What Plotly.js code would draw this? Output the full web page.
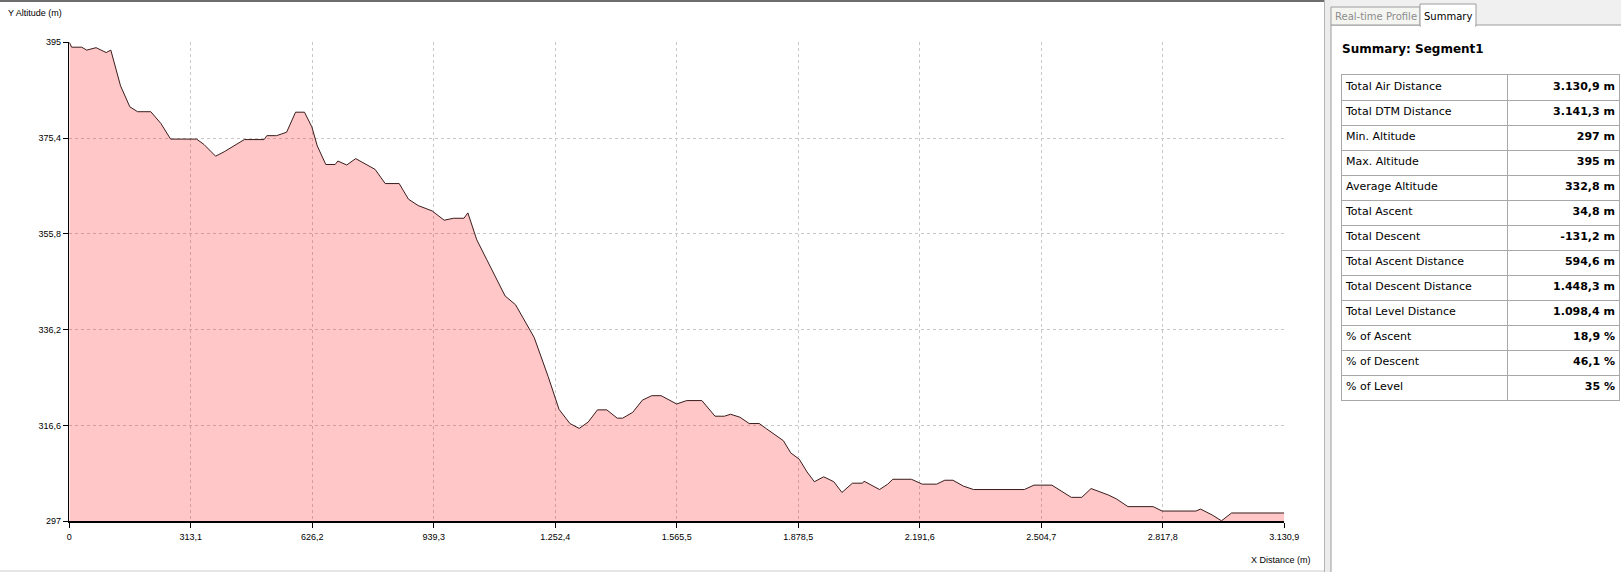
<!DOCTYPE html>
<html>
<head>
<meta charset="utf-8">
<script src="https://cdn.plot.ly/plotly-3.0.1.min.js"></script>
<style>
  html, body { margin: 0; padding: 0; background: #ffffff; }
  #chart { width: 1621px; height: 572px; }
</style>
</head>
<body>
<div id="chart"></div>
<script>
// ---------- data ----------
const distance = [0, 6, 32, 45, 69, 95, 107, 132, 156, 176, 210, 236, 261, 328, 347, 377, 399, 451, 502, 509,
  534, 560, 583, 606, 625, 639, 661, 685, 692, 715, 738, 788, 814, 850, 874, 899, 935, 966, 990, 1017,
  1027, 1050, 1076, 1123, 1150, 1198, 1234, 1262, 1290, 1314, 1337, 1361, 1385, 1412, 1426, 1452, 1477, 1501, 1525, 1565,
  1591, 1630, 1664, 1688, 1704, 1728, 1752, 1778, 1797, 1840, 1859, 1881, 1901, 1920, 1944, 1970, 1991, 2018, 2044, 2048,
  2088, 2109, 2122, 2170, 2198, 2235, 2256, 2277, 2304, 2330, 2461, 2486, 2532, 2582, 2609, 2633, 2677, 2698, 2728, 2793,
  2816, 2903, 2915, 2945, 2969, 2995, 3130.9];
const altitude = [395, 394, 394, 393.4, 393.9, 392.9, 393.4, 386.1, 381.8, 380.8, 380.8, 378.4, 375.2, 375.2, 374.1, 371.7, 372.6, 375.1, 375.1, 375.9,
  375.9, 376.6, 380.7, 380.7, 377.7, 373.8, 370.0, 370.0, 370.7, 369.9, 371.2, 369.0, 366.1, 366.1, 362.9, 361.6, 360.5, 358.6, 359.0, 359.0,
  360.1, 354.6, 350.5, 343.1, 341.3, 334.6, 326.6, 319.9, 317.0, 316.0, 317.3, 319.8, 319.8, 318.1, 318.1, 319.3, 321.8, 322.7, 322.7, 321.0,
  321.7, 321.7, 318.5, 318.5, 318.9, 318.3, 317.0, 317.0, 315.9, 313.5, 311.0, 309.7, 307.1, 305.1, 306.1, 305.1, 302.9, 304.8, 304.8, 305.2,
  303.5, 304.6, 305.6, 305.6, 304.6, 304.6, 305.4, 305.4, 304.2, 303.5, 303.5, 304.4, 304.4, 301.9, 301.9, 303.7, 302.4, 301.6, 300.0, 300.0,
  299.1, 299.1, 299.5, 298.3, 297.1, 298.7, 298.7];

const xTickVals = [0, 313.09, 626.18, 939.27, 1252.36, 1565.45, 1878.54, 2191.63, 2504.72, 2817.81, 3130.9];
const xTickText = ['0', '313,1', '626,2', '939,3', '1.252,4', '1.565,5', '1.878,5', '2.191,6', '2.504,7', '2.817,8', '3.130,9'];
const yTickVals = [297, 316.6, 336.2, 355.8, 375.4, 395];
const yTickText = ['297', '316,6', '336,2', '355,8', '375,4', '395'];

const summaryLabels = ['Total Air Distance', 'Total DTM Distance', 'Min. Altitude', 'Max. Altitude', 'Average Altitude',
  'Total Ascent', 'Total Descent', 'Total Ascent Distance', 'Total Descent Distance', 'Total Level Distance',
  '% of Ascent', '% of Descent', '% of Level'];
const summaryValues = ['3.130,9 m', '3.141,3 m', '297 m', '395 m', '332,8 m', '34,8 m', '-131,2 m', '594,6 m',
  '1.448,3 m', '1.098,4 m', '18,9 %', '46,1 %', '35 %'];

// ---------- layout helpers ----------
const W = 1621, H = 572;
const px = v => v / W;
const py = v => 1 - v / H;
const rect = (x0, y0, x1, y1, fill, line, lw) => ({
  type: 'rect', xref: 'paper', yref: 'paper', layer: 'below',
  x0: px(x0), x1: px(x1), y0: py(y1), y1: py(y0),
  fillcolor: fill, line: { color: line || fill, width: lw === undefined ? 0 : lw }
});

const tickFont = { family: 'Liberation Sans, Arial, sans-serif', size: 9, color: '#000000' };
const tableFont = 'DejaVu Sans, Verdana, sans-serif';

// table geometry (in table-axis units = pixels of the table box)
const TABLE_W = 277, COL1_W = 165;
const rowIdx = summaryLabels.map((_, i) => i);

const profile = {
  type: 'scatter', mode: 'lines',
  x: distance, y: altitude,
  fill: 'tozeroy', fillcolor: 'rgba(255,0,0,0.22)',
  line: { color: '#3a1c1c', width: 1 },
  hoverinfo: 'skip', showlegend: false
};

const labelTrace = {
  type: 'scatter', mode: 'text', xaxis: 'x2', yaxis: 'y2',
  x: rowIdx.map(() => 4), y: rowIdx, text: summaryLabels,
  textposition: 'middle right', marker: { size: 1 },
  textfont: { family: tableFont, size: 11, color: '#000000' },
  hoverinfo: 'skip', showlegend: false, cliponaxis: false
};
const valueTrace = {
  type: 'scatter', mode: 'text', xaxis: 'x2', yaxis: 'y2',
  x: rowIdx.map(() => TABLE_W - 4), y: rowIdx, text: summaryValues.map(s => '<b>' + s + '</b>'),
  textposition: 'middle left', marker: { size: 1 },
  textfont: { family: tableFont, size: 11, color: '#000000' },
  hoverinfo: 'skip', showlegend: false, cliponaxis: false
};

const rowLines = rowIdx.slice(0, -1).map(i => i + 0.5);

const layout = {
  width: W, height: H,
  margin: { l: 0, r: 0, t: 0, b: 0 },
  paper_bgcolor: '#ffffff', plot_bgcolor: 'rgba(0,0,0,0)',
  showlegend: false,
  xaxis: {
    domain: [px(69.3), px(1284.3)],
    range: [0, 3130.9],
    tickmode: 'array', tickvals: xTickVals, ticktext: xTickText,
    ticks: 'outside', ticklen: 5, tickcolor: '#000000', tickwidth: 1,
    showline: true, linecolor: '#000000', linewidth: 1.5,
    showgrid: true, gridcolor: '#c8c8c8', griddash: '3px,3px', gridwidth: 1,
    zeroline: false, tickfont: tickFont, ticklabelstandoff: 1,
    fixedrange: true
  },
  yaxis: {
    domain: [py(521.3), py(42.3)],
    range: [297, 395],
    tickmode: 'array', tickvals: yTickVals, ticktext: yTickText,
    ticks: 'outside', ticklen: 5, tickcolor: '#000000', tickwidth: 1,
    showline: true, linecolor: '#000000', linewidth: 1.5,
    showgrid: true, gridcolor: '#c8c8c8', griddash: '3px,3px', gridwidth: 1,
    zeroline: false, tickfont: tickFont,
    fixedrange: true
  },
  xaxis2: {
    domain: [px(1342), px(1619)], anchor: 'y2',
    range: [0, TABLE_W],
    tickmode: 'array', tickvals: [COL1_W], showticklabels: false, ticks: '',
    showgrid: true, gridcolor: '#a8a8a8', gridwidth: 1,
    showline: true, mirror: true, linecolor: '#a8a8a8', linewidth: 1,
    zeroline: false, fixedrange: true
  },
  yaxis2: {
    domain: [py(400), py(75)], anchor: 'x2',
    range: [summaryLabels.length - 0.5, -0.5],
    tickmode: 'array', tickvals: rowLines, showticklabels: false, ticks: '',
    showgrid: true, gridcolor: '#a8a8a8', gridwidth: 1,
    showline: true, mirror: true, linecolor: '#a8a8a8', linewidth: 1,
    zeroline: false, fixedrange: true
  },
  shapes: [
    rect(0, 0, 1324, 2, '#6e6e6e'),
    rect(0, 570, 1324, 572, '#e6e6e6'),
    rect(1324, 0, 1331, 572, '#ececec'),
    { type: 'line', xref: 'paper', yref: 'paper', layer: 'below', x0: px(1324.5), x1: px(1324.5), y0: 0, y1: 1,
      line: { color: '#b4b4b4', width: 1 } },
    rect(1331, 0, 1621, 25, '#f0f0f0'),
    rect(1331, 25, 1625, 580, '#ffffff', '#9c9c9c', 1),
    rect(1331, 7, 1420, 25, '#f4f4f1', '#9c9c9c', 1),
    rect(1420, 4, 1476, 26, '#ffffff', '#9c9c9c', 1),
    rect(1421, 24, 1475, 27, '#ffffff')
  ],
  annotations: [
    { text: 'Y Altitude (m)', xref: 'paper', yref: 'paper', x: px(6), y: py(13), xanchor: 'left', yanchor: 'middle',
      showarrow: false, font: { family: 'Liberation Sans, Arial, sans-serif', size: 9, color: '#000000' } },
    { text: 'X Distance (m)', xref: 'paper', yref: 'paper', x: px(1313), y: py(560), xanchor: 'right', yanchor: 'middle',
      showarrow: false, font: { family: 'Liberation Sans, Arial, sans-serif', size: 9, color: '#000000' } },
    { text: 'Real-time Profile', xref: 'paper', yref: 'paper', x: px(1375.5), y: py(16.5), xanchor: 'center', yanchor: 'middle',
      showarrow: false, font: { family: tableFont, size: 10, color: '#8c8c8c' } },
    { text: 'Summary', xref: 'paper', yref: 'paper', x: px(1448), y: py(16), xanchor: 'center', yanchor: 'middle',
      showarrow: false, font: { family: tableFont, size: 10, color: '#000000' } },
    { text: '<b>Summary: Segment1</b>', xref: 'paper', yref: 'paper', x: px(1340), y: py(49), xanchor: 'left', yanchor: 'middle',
      showarrow: false, font: { family: tableFont, size: 12, color: '#000000' } }
  ]
};

Plotly.newPlot('chart', [profile, labelTrace, valueTrace], layout, { displayModeBar: false, staticPlot: true });
</script>
</body>
</html>
